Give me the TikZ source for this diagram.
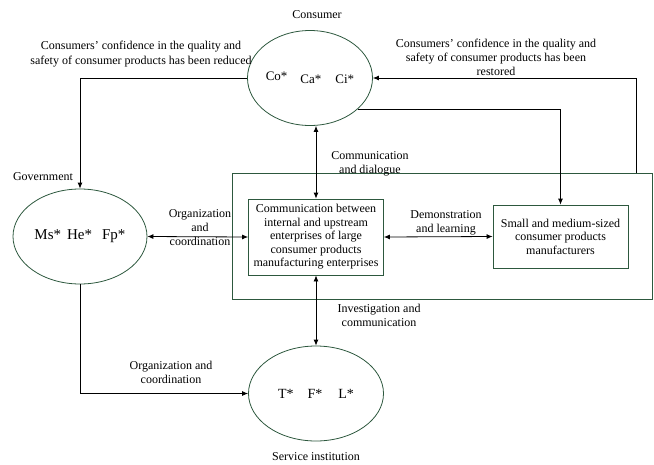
\documentclass[tikz,border=0pt]{standalone}
\usepackage{fontspec}
\setmainfont{Liberation Serif}
\usetikzlibrary{shapes.geometric, arrows.meta}
\definecolor{framegreen}{RGB}{45,88,62}
\tikzstyle{agent} = [draw=framegreen,ellipse,line width=0.8pt,inner sep=0pt]
\tikzstyle{unit} = [draw=framegreen,rectangle,line width=0.8pt,align=center,inner sep=0pt,font=\fontsize{12}{13.5}\selectfont]
\tikzstyle{note} = [align=center,inner sep=0pt,font=\fontsize{12}{14.2}\selectfont]
\tikzstyle{flow} = [line width=0.8pt,-{Latex[length=6pt,width=5pt]}]
\tikzstyle{both} = [line width=0.8pt,{Latex[length=6pt,width=5pt]}-{Latex[length=6pt,width=5pt]}]

\begin{document}
\begin{tikzpicture}[x=1pt,y=-1pt]
\useasboundingbox (0,0) rectangle (654,464);

\node[unit,minimum width=420,minimum height=126] (frame) at (442,236) {};
\node[unit,minimum width=135,minimum height=76] (box1) at (316,237) {Communication between\\internal and upstream\\enterprises of large\\consumer products\\manufacturing enterprises};
\node[unit,minimum width=135,minimum height=63] (box2) at (560.5,236.5) {Small and medium-sized\\consumer products\\manufacturers};

\node[agent,minimum width=124,minimum height=95,font=\fontsize{13}{15}\selectfont] (cons) at (310,78) {\raisebox{3pt}{Co*}\hspace{13pt}Ca*\hspace{14pt}Ci*};
\node[agent,minimum width=134,minimum height=95,font=\fontsize{15}{17}\selectfont] (gov) at (80,236.5) {Ms*\hspace{6pt}He*\hspace{10pt}Fp*};
\node[agent,minimum width=135,minimum height=95,font=\fontsize{14}{16}\selectfont] (svc) at (316,393.5) {T*\hspace{14pt}F*\hspace{16pt}L*};

\node[note] (conslbl) at (317,15) {Consumer};
\node[note] (govlbl) at (43,177) {Government};
\node[note] (svclbl) at (316,457) {Service institution};

\node[note] (reduced) at (141,54) {Consumers' confidence in the quality and\\safety of consumer products has been reduced};
\node[note] (restored) at (496,57.5) {Consumers' confidence in the quality and\\safety of consumer products has been\\restored};
\node[note] (dialogue) at (370,164) {Communication\\and dialogue};
\node[note] (orgmid) at (200,227.5) {Organization\\and\\coordination};
\node[note] (demo) at (446,222.5) {Demonstration\\and learning};
\node[note] (invest) at (379,315.5) {Investigation and\\communication};
\node[note] (orglow) at (171,372) {Organization and\\coordination};

\coordinate (back) at (636,173);

\draw[flow] (cons.west) -| (gov.north);
\draw[flow] (back) |- (cons.east);
\draw[flow] (cons.-33) -| (box2.north);
\draw[both] (box1.north |- cons.south) -- (box1.north);
\draw[both] (gov.east) -- (box1.west);
\draw[both] (box1.east) -- (box2.west);
\draw[both] (box1.south) -- (svc.north);
\draw[flow] (gov.south) |- (svc.west);
\end{tikzpicture}
\end{document}
